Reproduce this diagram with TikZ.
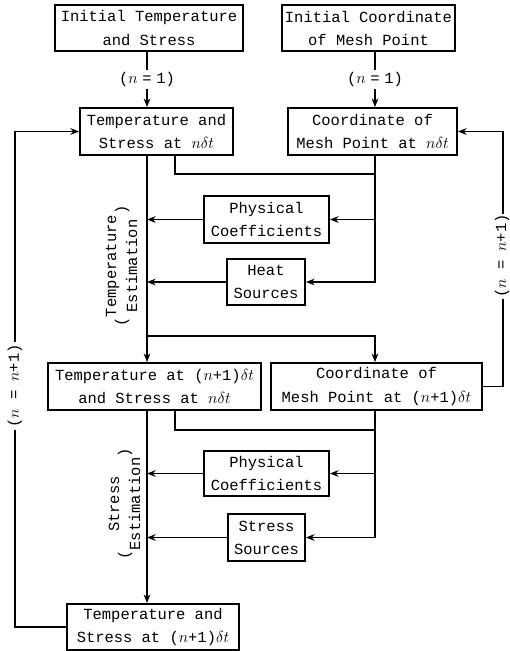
\documentclass[tikz,border=0pt]{standalone}
\usepackage{fontspec}
\setmainfont{Liberation Mono}
\usetikzlibrary{arrows.meta}
\begin{document}
\begin{tikzpicture}[x=0.75pt,y=0.75pt,
  txt/.style={font=\fontsize{11.6}{17.3}\selectfont},
  box/.style={txt, draw, line width=1.4pt, align=center, inner sep=0pt},
  sz/.style 2 args={minimum width={#1*0.75pt}, minimum height={#2*0.75pt}},
  ln/.style={line width=1.3pt},
  arr/.style={ln, -{Stealth[length=6.5pt,width=5pt]}},
  lbl/.style={txt, fill=white, inner sep=1.5pt}]
\useasboundingbox (0,0) rectangle (510,-651);
% column coordinates
\coordinate (xL) at (147,0);
\coordinate (xM) at (175,0);
\coordinate (xR) at (375,0);
\coordinate (lx) at (15,0);
\coordinate (rx) at (503,0);
\coordinate (j1) at (375,-174);
\coordinate (j2) at (147,-336);
\coordinate (j3) at (375,-430);
% boxes
\node[box, sz={188}{46}] (A) at (149,-28) {Initial Temperature\\and Stress};
\node[box, sz={173}{46}] (B) at (368.5,-28) {Initial Coordinate\\of Mesh Point};
\node[box, sz={153}{47}] (C) at (156.5,-131.5) {Temperature and\\Stress at $n\delta t$};
\node[box, sz={169}{47}] (D) at (372.5,-131.5) {Coordinate of\\Mesh Point at $n\delta t$};
\node[box, sz={125}{47}] (P1) at (266.5,-219.5) {Physical\\Coefficients};
\node[box, sz={78}{46}] (H) at (266,-282) {Heat\\Sources};
\node[box, sz={213}{47}] (E) at (154.5,-386.5) {Temperature at ($n$+1)$\delta t$\\and Stress at $n\delta t$};
\node[box, sz={211}{47}] (F) at (376.5,-386.5) {Coordinate of\\Mesh Point at ($n$+1)$\delta t$};
\node[box, sz={125}{45}] (P2) at (266.5,-473.5) {Physical\\Coefficients};
\node[box, sz={77}{47}] (S) at (266.5,-537.5) {Stress\\Sources};
\node[box, sz={172}{46}] (G) at (153,-627) {Temperature and\\Stress at ($n$+1)$\delta t$};
% initial arrows
\draw[arr] (A.south -| xL) -- node[lbl] {($n$\hspace{3.5pt}=\hspace{3.5pt}1)} (C.north -| xL);
\draw[arr] (B.south -| xR) -- node[lbl] {($n$\hspace{3.5pt}=\hspace{3.5pt}1)} (D.north -| xR);
% first stage
\draw[arr] (C.south -| xL) -- (E.north -| xL);
\draw[ln] (C.south -| xM) |- (j1);
\draw[arr] (D.south -| xR) |- (H.east);
\draw[arr] (P1.east -| xR) -- (P1.east);
\draw[arr] (P1.west) -- (P1.west -| xL);
\draw[arr] (H.west) -- (H.west -| xL);
\draw[arr] (j2) -| (F.north -| xR);
\node[txt, rotate=90] (T1) at (122,-266) {(\begin{tabular}{@{}c@{}}Temperature\\[-1.5pt]Estimation\end{tabular})};
% second stage
\draw[arr] (E.south -| xL) -- (G.north -| xL);
\draw[ln] (E.south -| xM) |- (j3);
\draw[arr] (F.south -| xR) |- (S.east);
\draw[arr] (P2.east -| xR) -- (P2.east);
\draw[arr] (P2.west) -- (P2.west -| xL);
\draw[arr] (S.west) -- (S.west -| xL);
\node[txt, rotate=90] (T2) at (125,-504) {(\begin{tabular}{@{}c@{}}Stress\\[-1.5pt]Estimation\end{tabular})};
% feedback loops
\draw[arr] (G.west) -- (G.west -| lx) -- (C.west -| lx) -- (C.west);
\node[lbl, rotate=90] (L1) at (15,-386) {($n$ = $n$+1)};
\draw[arr] (F.east) -- (F.east -| rx) -- (D.east -| rx) -- (D.east);
\node[lbl, rotate=90, inner sep=0.5pt] (L2) at (502,-256) {($n$ = $n$+1)};
\end{tikzpicture}
\end{document}
